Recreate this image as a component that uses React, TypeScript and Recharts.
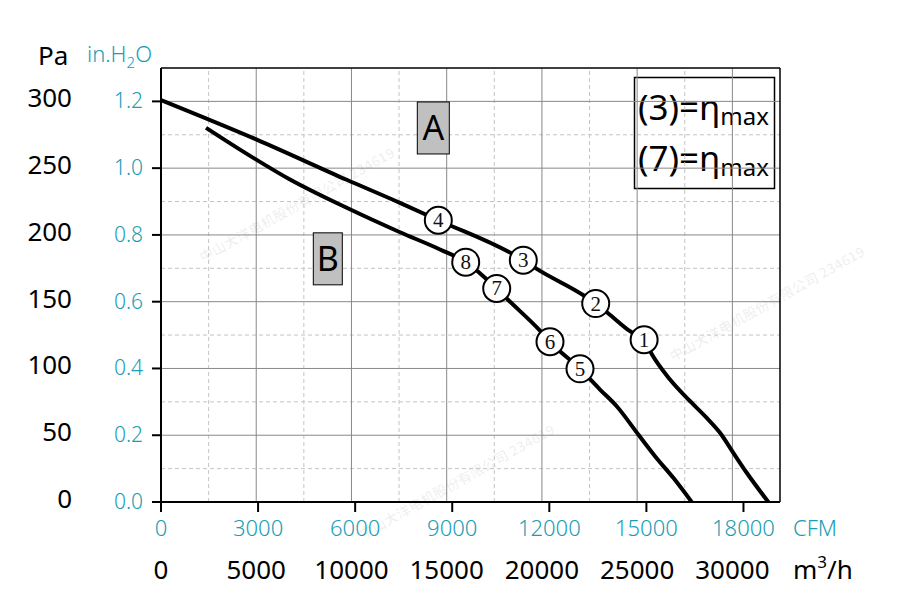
import React from 'react';
import { ComposedChart, Line, Scatter, XAxis, YAxis, ReferenceLine, Customized } from 'recharts';

// 1 CFM = 1.699 m3/h ; data is in m3/h and Pa
const CFM_TO_M3H = 1.699;

const curveA = [
  { x: 0, y: 301.0 },
  { x: 5025, y: 271.4 },
  { x: 9750, y: 241.3 },
  { x: 12548, y: 224.0 },
  { x: 14560, y: 211.0 },
  { x: 19022, y: 181.1 },
  { x: 19726, y: 174.6 },
  { x: 22262, y: 154.1 },
  { x: 22824, y: 148.6 },
  { x: 23486, y: 141.2 },
  { x: 24624, y: 127.9 },
  { x: 25365, y: 121.5 },
  { x: 25780, y: 110.4 },
  { x: 26725, y: 91.7 },
  { x: 27686, y: 76.8 },
  { x: 28652, y: 63.0 },
  { x: 29350, y: 51.8 },
  { x: 30049, y: 36.8 },
  { x: 30752, y: 21.9 },
  { x: 31886, y: 0 },
];

const curveB = [
  { x: 2363, y: 280.2 },
  { x: 4148, y: 263.9 },
  { x: 6773, y: 241.5 },
  { x: 9750, y: 220.3 },
  { x: 12548, y: 202.0 },
  { x: 14649, y: 189.1 },
  { x: 15998, y: 179.6 },
  { x: 16576, y: 173.4 },
  { x: 17101, y: 166.8 },
  { x: 17626, y: 159.9 },
  { x: 18151, y: 152.4 },
  { x: 19899, y: 128.3 },
  { x: 20424, y: 120.0 },
  { x: 21999, y: 99.7 },
  { x: 23049, y: 84.2 },
  { x: 23926, y: 71.7 },
  { x: 25060, y: 50.5 },
  { x: 25937, y: 34.3 },
  { x: 26898, y: 18.1 },
  { x: 27864, y: 0 },
];

const markersA = [
  { x: 25365, y: 121.5, id: '1' },
  { x: 22824, y: 148.6, id: '2' },
  { x: 19022, y: 181.1, id: '3' },
  { x: 14560, y: 211.0, id: '4' },
];

const markersB = [
  { x: 21999, y: 99.7, id: '5' },
  { x: 20424, y: 120.0, id: '6' },
  { x: 17626, y: 159.9, id: '7' },
  { x: 15998, y: 179.6, id: '8' },
];

const curveLabels = [
  { x: 14297, y: 280.1, t: 'A' },
  { x: 8758, y: 182.1, t: 'B' },
];

const cfmTicks = [0, 3000, 6000, 9000, 12000, 15000, 18000];
const m3hTicks = [0, 5000, 10000, 15000, 20000, 25000, 30000];
const paTicks = [0, 50, 100, 150, 200, 250, 300];
const inH2OLabels = ['0.0', '0.2', '0.4', '0.6', '0.8', '1.0', '1.2'];

const gridSolidX = [5000, 10000, 15000, 20000, 25000, 30000];
const gridDashX = [2500, 7500, 12500, 17500, 22500, 27500];
const gridSolidY = [50, 100, 150, 200, 250, 300];
const gridDashY = [25, 75, 125, 175, 225, 275];

const X_MAX = 32500;
const Y_MAX = 325;

const TEAL = '#1a9db4';
const SANS = '"Noto Sans", "Open Sans", sans-serif';
const PLOT_BOTTOM = 502;

const YTick = (props: any) => {
  const { y, payload } = props;
  const i = paTicks.indexOf(payload.value);
  return (
    <g>
      <text x={72} y={y} dy={6} textAnchor="end" fontSize={26} fill="#000" fontFamily={SANS}>
        {payload.value}
      </text>
      <text x={143} y={y} dy={7} textAnchor="end" fontSize={21} fill={TEAL} fontFamily={SANS} fontWeight={300}>
        {inH2OLabels[i]}
      </text>
    </g>
  );
};

const CfmTick = (props: any) => {
  const { x, payload } = props;
  const label = Math.round(payload.value / CFM_TO_M3H);
  return (
    <g>
      <line x1={x} x2={x} y1={PLOT_BOTTOM} y2={PLOT_BOTTOM + 10} stroke="#000" strokeWidth={2} />
      <text x={x} y={536} textAnchor="middle" fontSize={22} fill={TEAL} fontFamily={SANS} fontWeight={300}>
        {label}
      </text>
    </g>
  );
};

const M3hTick = (props: any) => {
  const { x, payload } = props;
  return (
    <text x={x} y={579} textAnchor="middle" fontSize={26} fill="#000" fontFamily={SANS}>
      {payload.value}
    </text>
  );
};

const MarkerShape = (props: any) => {
  const { cx, cy, payload } = props;
  return (
    <g>
      <circle cx={cx} cy={cy} r={13.5} fill="#fff" stroke="#000" strokeWidth={2} />
      <text x={cx} y={cy} dy={7} textAnchor="middle" fontSize={21} fill="#111"
        fontFamily='"Liberation Serif", "DejaVu Serif", serif'>
        {payload.id}
      </text>
    </g>
  );
};

const LabelShape = (props: any) => {
  const { cx, cy, payload } = props;
  const w = payload.t === 'A' ? 32 : 29;
  return (
    <g>
      <rect x={cx - w / 2} y={cy - 26} width={w} height={52} fill="#c0c0c0" stroke="#000" strokeWidth={1} />
      <text x={cx} y={cy} dy={12.5} textAnchor="middle" fontSize={34} fill="#000" fontFamily={SANS}>
        {payload.t}
      </text>
    </g>
  );
};

const WATERMARK = '中山大洋电机股份有限公司 234619';
const wmPos = [
  [203, 263],
  [363, 540],
  [673, 362],
];

const Overlay = () => (
  <g>
    {/* watermarks */}
    {wmPos.map(([x, y], i) => (
      <text key={i} x={x} y={y} transform={`rotate(-29 ${x} ${y})`} fontSize={14} fontWeight={700}
        fill="#000" fillOpacity={0.06} fontFamily='"Noto Sans CJK SC", sans-serif'>
        {WATERMARK}
      </text>
    ))}
    {/* axis titles */}
    <text x={38} y={65} fontSize={26} fill="#000" fontFamily={SANS}>Pa</text>
    <text x={87} y={62} fontSize={22} fill={TEAL} fontFamily={SANS} fontWeight={300}>
      in.H<tspan fontSize={15} dy={6}>2</tspan><tspan dy={-6}>O</tspan>
    </text>
    <text x={793} y={536} fontSize={22} fill={TEAL} fontFamily={SANS} fontWeight={300}>CFM</text>
    <text x={793} y={579} fontSize={26} fill="#000" fontFamily={SANS}>
      m<tspan fontSize={17} dy={-11}>3</tspan><tspan dy={11}>/h</tspan>
    </text>
    {/* legend box */}
    <rect x={634.5} y={77.5} width={140} height={111} fill="#fff" stroke="#000" strokeWidth={1.5} />
    <text x={638} y={120} fontSize={35} fill="#000" fontFamily={SANS}>
      (3)=η<tspan fontSize={24} dy={5}>max</tspan>
    </text>
    <text x={638} y={171} fontSize={35} fill="#000" fontFamily={SANS}>
      (7)=η<tspan fontSize={24} dy={5}>max</tspan>
    </text>
  </g>
);

export default function App() {
  return (
    <div style={{ position: 'absolute', left: 0, top: 0, background: '#fff' }}>
      <ComposedChart width={904} height={602} margin={{ top: 68, right: 124, bottom: 0, left: 0 }}>
        <XAxis xAxisId="m3h" type="number" dataKey="x" domain={[0, X_MAX]} ticks={m3hTicks}
          axisLine={false} tickLine={false} tick={<M3hTick />} height={50} interval={0} allowDataOverflow />
        <XAxis xAxisId="cfm" type="number" dataKey="x" domain={[0, X_MAX]}
          ticks={cfmTicks.map((c) => c * CFM_TO_M3H)} axisLine={false} tickLine={false}
          tick={<CfmTick />} height={50} interval={0} allowDataOverflow />
        <YAxis yAxisId="pa" type="number" domain={[0, Y_MAX]} ticks={paTicks} width={161} interval={0}
          axisLine={{ stroke: '#000', strokeWidth: 2 }} tickLine={{ stroke: '#000', strokeWidth: 2 }}
          tickSize={9} tick={<YTick />} allowDataOverflow />

        {gridDashX.map((v) => (
          <ReferenceLine key={'dx' + v} xAxisId="m3h" yAxisId="pa" x={v} stroke="#c4c4c4" strokeDasharray="4 3" />
        ))}
        {gridDashY.map((v) => (
          <ReferenceLine key={'dy' + v} xAxisId="m3h" yAxisId="pa" y={v} stroke="#c4c4c4" strokeDasharray="4 3" />
        ))}
        {gridSolidX.map((v) => (
          <ReferenceLine key={'sx' + v} xAxisId="m3h" yAxisId="pa" x={v} stroke="#888" />
        ))}
        {gridSolidY.map((v) => (
          <ReferenceLine key={'sy' + v} xAxisId="m3h" yAxisId="pa" y={v} stroke="#888" />
        ))}
        <ReferenceLine xAxisId="m3h" yAxisId="pa" y={Y_MAX} stroke="#000" strokeWidth={1.5} />
        <ReferenceLine xAxisId="m3h" yAxisId="pa" x={X_MAX} stroke="#000" strokeWidth={1.5} />
        <ReferenceLine xAxisId="m3h" yAxisId="pa" y={0} stroke="#000" strokeWidth={2} />

        <Line xAxisId="m3h" yAxisId="pa" data={curveA} dataKey="y" type="monotone" stroke="#000"
          strokeWidth={4} dot={false} isAnimationActive={false} strokeLinejoin="round" />
        <Line xAxisId="m3h" yAxisId="pa" data={curveB} dataKey="y" type="monotone" stroke="#000"
          strokeWidth={4} dot={false} isAnimationActive={false} strokeLinejoin="round" />
        <Scatter xAxisId="m3h" yAxisId="pa" data={markersA} dataKey="y" shape={<MarkerShape />} isAnimationActive={false} />
        <Scatter xAxisId="m3h" yAxisId="pa" data={markersB} dataKey="y" shape={<MarkerShape />} isAnimationActive={false} />
        <Scatter xAxisId="m3h" yAxisId="pa" data={curveLabels} dataKey="y" shape={<LabelShape />} isAnimationActive={false} />
        <Customized component={Overlay} />
      </ComposedChart>
    </div>
  );
}
